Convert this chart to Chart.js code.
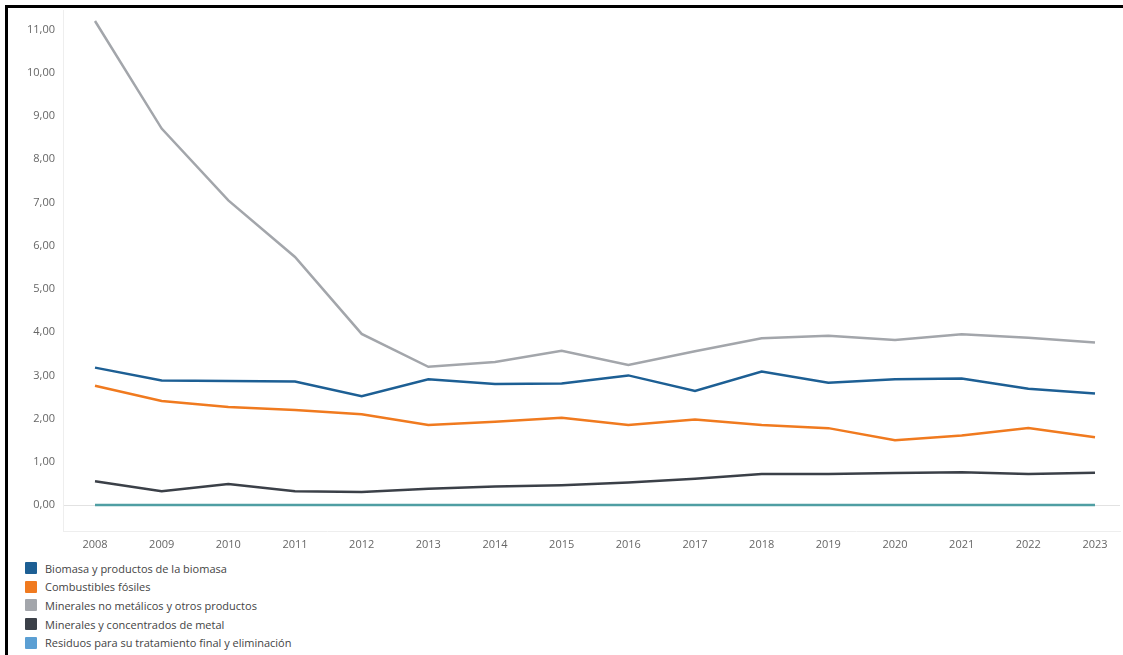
<!DOCTYPE html>
<html>
<head>
<meta charset="utf-8">
<script src="https://cdn.jsdelivr.net/npm/chart.js@4"></script>
<style>
  html,body{margin:0;padding:0;background:#fff;font-family:"Open Sans",sans-serif;}
  #page{position:relative;width:1123px;height:655px;overflow:hidden;background:#fff;}
  #barL{position:absolute;left:5px;top:5px;width:3px;height:650px;background:#000;}
  #barT{position:absolute;left:5px;top:5px;width:1118px;height:3px;background:#000;}
  #wrap{position:absolute;left:8px;top:-4px;width:1115px;height:561px;}
  #legend{position:absolute;left:25px;top:559px;}
  .li{display:flex;align-items:center;height:18.6px;font-size:11px;color:#444;white-space:nowrap;}
  .sw{width:12px;height:12px;margin-right:8px;border-radius:1px;}
</style>
</head>
<body>
<div id="page">
<div id="barL"></div>
<div id="barT"></div>
<div id="wrap"><canvas id="c"></canvas></div>
<div id="legend"></div>
</div>
<script>
const years = [2008,2009,2010,2011,2012,2013,2014,2015,2016,2017,2018,2019,2020,2021,2022,2023];
const seriesNames = [
  "Biomasa y productos de la biomasa",
  "Combustibles fósiles",
  "Minerales no metálicos y otros productos",
  "Minerales y concentrados de metal",
  "Residuos para su tratamiento final y eliminación"
];
const biomasa      = [3.18,2.88,2.87,2.86,2.52,2.91,2.80,2.81,3.00,2.64,3.09,2.83,2.91,2.93,2.69,2.58];
const combustibles = [2.76,2.41,2.27,2.20,2.10,1.85,1.93,2.02,1.85,1.98,1.85,1.78,1.50,1.61,1.78,1.57];
const noMetalicos  = [11.20,8.71,7.05,5.74,3.96,3.20,3.31,3.57,3.24,3.56,3.86,3.92,3.82,3.95,3.87,3.76];
const metales      = [0.55,0.32,0.49,0.32,0.30,0.38,0.43,0.46,0.52,0.61,0.72,0.72,0.74,0.76,0.72,0.75];
const residuos     = [0,0,0,0,0,0,0,0,0,0,0,0,0,0,0,0];
const yTicks = [0,1,2,3,4,5,6,7,8,9,10,11];

const lineColors = ["#1d5f94","#f07a1f","#a3a6ab","#3b4048","#4f9ea3"];
const legendColors = ["#1d5f94","#f07a1f","#a3a6ab","#3b4048","#5b9fd3"];
const values = [biomasa, combustibles, noMetalicos, metales, residuos];

const datasets = values.map((arr,i)=>({
  label: seriesNames[i],
  data: arr.map((v,j)=>({x:years[j], y:v})),
  borderColor: lineColors[i],
  backgroundColor: lineColors[i],
  borderWidth: 2.5,
  pointRadius: 0,
  tension: 0,
  clip: 4,
  order: i===4 ? 0 : 5-i
}));

new Chart(document.getElementById('c'), {
  type: 'line',
  data: { datasets },
  options: {
    responsive: true,
    maintainAspectRatio: false,
    animation: false,
    layout: { padding: { top: 0, right: 3, left: 0, bottom: 0 } },
    plugins: { legend: { display: false }, tooltip: { enabled: false } },
    scales: {
      x: {
        type: 'linear',
        min: 2007.52, max: 2023.375,
        afterBuildTicks: ax => { ax.ticks = years.map(v=>({value:v})); },
        afterFit: ax => { ax.height = 26; },
        grid: { display: false, drawTicks: false },
        border: { display: true, color: '#eeeeee', width: 1 },
        ticks: { color: '#666', font: { family: 'Open Sans', size: 11 }, padding: 7, maxRotation: 0,
                 callback: v => String(v) }
      },
      y: {
        min: -0.6, max: 11.44,
        afterBuildTicks: ax => { ax.ticks = yTicks.map(v=>({value:v})); },
        afterFit: ax => { ax.width = 55; },
        grid: { drawTicks: false, color: ctx => (ctx.tick && ctx.tick.value === 0) ? '#e2e2e2' : 'rgba(0,0,0,0)', lineWidth: 1 },
        border: { display: true, color: '#eeeeee', width: 1 },
        ticks: { color: '#666', font: { family: 'Open Sans', size: 11 }, padding: 8,
                 callback: v => v.toFixed(2).replace('.', ',') }
      }
    }
  }
});

const lg = document.getElementById('legend');
seriesNames.forEach((n,i)=>{
  const d = document.createElement('div'); d.className='li';
  const s = document.createElement('div'); s.className='sw'; s.style.background = legendColors[i];
  const t = document.createElement('span'); t.textContent = n;
  d.appendChild(s); d.appendChild(t); lg.appendChild(d);
});
</script>
</body>
</html>
